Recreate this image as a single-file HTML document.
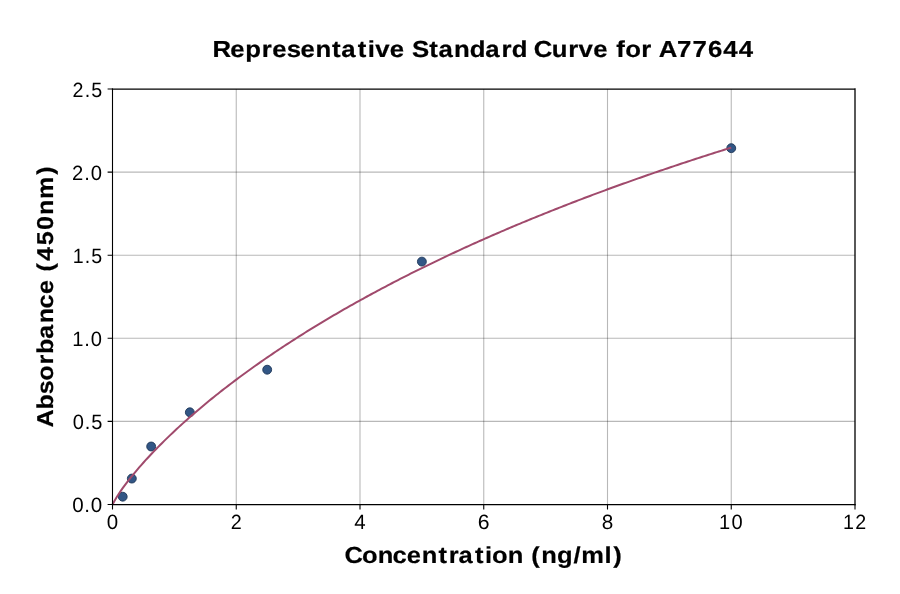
<!DOCTYPE html><html><head><meta charset="utf-8"><style>html,body{margin:0;padding:0;background:#fff;width:900px;height:594px;overflow:hidden}svg{display:block;will-change:transform}text{font-family:"Liberation Sans",sans-serif;fill:#000;text-rendering:geometricPrecision}</style></head><body>
<svg width="900" height="594" viewBox="0 0 900 594">
<rect width="900" height="594" fill="#fff"/>
<g stroke="#000" stroke-opacity="0.28" stroke-width="1.1" fill="none">
<path d="M236.25 89.0V504.5"/>
<path d="M360.00 89.0V504.5"/>
<path d="M483.75 89.0V504.5"/>
<path d="M607.50 89.0V504.5"/>
<path d="M731.25 89.0V504.5"/>
<path d="M112.5 421.40H855.0"/>
<path d="M112.5 338.30H855.0"/>
<path d="M112.5 255.20H855.0"/>
<path d="M112.5 172.10H855.0"/>
</g>
<circle cx="122.71" cy="496.69" r="4.45" fill="#325685" stroke="#1d3657" stroke-width="0.9"/>
<circle cx="131.84" cy="478.57" r="4.45" fill="#325685" stroke="#1d3657" stroke-width="0.9"/>
<circle cx="151.17" cy="446.50" r="4.45" fill="#325685" stroke="#1d3657" stroke-width="0.9"/>
<circle cx="189.84" cy="412.29" r="4.45" fill="#325685" stroke="#1d3657" stroke-width="0.9"/>
<circle cx="267.19" cy="369.71" r="4.45" fill="#325685" stroke="#1d3657" stroke-width="0.9"/>
<circle cx="421.88" cy="261.60" r="4.45" fill="#325685" stroke="#1d3657" stroke-width="0.9"/>
<circle cx="731.25" cy="148.17" r="4.45" fill="#325685" stroke="#1d3657" stroke-width="0.9"/>
<polyline points="112.50,504.50 114.57,500.81 116.64,497.23 118.71,493.96 120.78,490.88 122.85,487.94 124.92,485.10 126.99,482.36 129.06,479.68 131.12,477.08 133.19,474.53 135.26,472.03 137.33,469.59 139.40,467.18 141.47,464.82 143.54,462.49 145.61,460.20 147.68,457.95 149.75,455.72 151.82,453.52 153.89,451.36 155.96,449.21 158.03,447.10 160.10,445.01 162.17,442.94 164.23,440.89 166.30,438.87 168.37,436.86 170.44,434.88 172.51,432.92 174.58,430.97 176.65,429.04 178.72,427.13 180.79,425.24 182.86,423.37 184.93,421.51 187.00,419.66 189.07,417.84 191.14,416.02 193.21,414.22 195.28,412.44 197.35,410.67 199.41,408.91 201.48,407.17 203.55,405.44 205.62,403.72 207.69,402.02 209.76,400.33 211.83,398.64 213.90,396.98 215.97,395.32 218.04,393.67 220.11,392.04 222.18,390.41 224.25,388.80 226.32,387.20 228.39,385.61 230.46,384.02 232.53,382.45 234.59,380.89 236.66,379.34 238.73,377.80 240.80,376.26 242.87,374.74 244.94,373.22 247.01,371.72 249.08,370.22 251.15,368.73 253.22,367.25 255.29,365.78 257.36,364.32 259.43,362.86 261.50,361.42 263.57,359.98 265.64,358.55 267.70,357.13 269.77,355.71 271.84,354.30 273.91,352.90 275.98,351.51 278.05,350.13 280.12,348.75 282.19,347.38 284.26,346.02 286.33,344.66 288.40,343.31 290.47,341.97 292.54,340.63 294.61,339.30 296.68,337.98 298.75,336.66 300.82,335.35 302.88,334.05 304.95,332.75 307.02,331.46 309.09,330.18 311.16,328.90 313.23,327.63 315.30,326.36 317.37,325.10 319.44,323.85 321.51,322.60 323.58,321.36 325.65,320.12 327.72,318.89 329.79,317.66 331.86,316.44 333.93,315.23 335.99,314.02 338.06,312.82 340.13,311.62 342.20,310.42 344.27,309.24 346.34,308.05 348.41,306.88 350.48,305.70 352.55,304.54 354.62,303.37 356.69,302.22 358.76,301.06 360.83,299.92 362.90,298.77 364.97,297.64 367.04,296.50 369.11,295.37 371.17,294.25 373.24,293.13 375.31,292.02 377.38,290.90 379.45,289.80 381.52,288.70 383.59,287.60 385.66,286.51 387.73,285.42 389.80,284.34 391.87,283.26 393.94,282.18 396.01,281.11 398.08,280.05 400.15,278.98 402.22,277.92 404.29,276.87 406.35,275.82 408.42,274.77 410.49,273.73 412.56,272.69 414.63,271.66 416.70,270.63 418.77,269.60 420.84,268.58 422.91,267.56 424.98,266.55 427.05,265.54 429.12,264.53 431.19,263.53 433.26,262.53 435.33,261.53 437.40,260.54 439.46,259.55 441.53,258.56 443.60,257.58 445.67,256.60 447.74,255.63 449.81,254.66 451.88,253.69 453.95,252.73 456.02,251.76 458.09,250.81 460.16,249.85 462.23,248.90 464.30,247.95 466.37,247.01 468.44,246.07 470.51,245.13 472.58,244.20 474.64,243.27 476.71,242.34 478.78,241.41 480.85,240.49 482.92,239.57 484.99,238.66 487.06,237.75 489.13,236.84 491.20,235.93 493.27,235.03 495.34,234.13 497.41,233.23 499.48,232.34 501.55,231.45 503.62,230.56 505.69,229.68 507.76,228.79 509.82,227.91 511.89,227.04 513.96,226.16 516.03,225.29 518.10,224.43 520.17,223.56 522.24,222.70 524.31,221.84 526.38,220.98 528.45,220.13 530.52,219.28 532.59,218.43 534.66,217.58 536.73,216.74 538.80,215.90 540.87,215.06 542.93,214.23 545.00,213.39 547.07,212.56 549.14,211.74 551.21,210.91 553.28,210.09 555.35,209.27 557.42,208.45 559.49,207.64 561.56,206.82 563.63,206.02 565.70,205.21 567.77,204.40 569.84,203.60 571.91,202.80 573.98,202.00 576.05,201.21 578.11,200.42 580.18,199.63 582.25,198.84 584.32,198.05 586.39,197.27 588.46,196.49 590.53,195.71 592.60,194.93 594.67,194.16 596.74,193.39 598.81,192.62 600.88,191.85 602.95,191.09 605.02,190.32 607.09,189.56 609.16,188.80 611.22,188.05 613.29,187.29 615.36,186.54 617.43,185.79 619.50,185.05 621.57,184.30 623.64,183.56 625.71,182.82 627.78,182.08 629.85,181.34 631.92,180.61 633.99,179.87 636.06,179.14 638.13,178.41 640.20,177.69 642.27,176.96 644.34,176.24 646.40,175.52 648.47,174.80 650.54,174.09 652.61,173.37 654.68,172.66 656.75,171.95 658.82,171.24 660.89,170.53 662.96,169.83 665.03,169.13 667.10,168.43 669.17,167.73 671.24,167.03 673.31,166.33 675.38,165.64 677.45,164.95 679.52,164.26 681.58,163.57 683.65,162.89 685.72,162.20 687.79,161.52 689.86,160.84 691.93,160.16 694.00,159.49 696.07,158.81 698.14,158.14 700.21,157.47 702.28,156.80 704.35,156.13 706.42,155.46 708.49,154.80 710.56,154.14 712.63,153.48 714.69,152.82 716.76,152.16 718.83,151.50 720.90,150.85 722.97,150.20 725.04,149.55 727.11,148.90 729.18,148.25 731.25,147.61" fill="none" stroke="#a04a6c" stroke-width="2.0" stroke-linejoin="round"/>
<path d="M112.5 504.5V89.0" stroke="#000" stroke-width="1.1" fill="none" stroke-linecap="square"/>
<path d="M112.5 504.65H855.0" stroke="#000" stroke-width="1.2" fill="none" stroke-linecap="square"/>
<path d="M855.0 504.5V89.0M112.5 89.15H855.0" stroke="#000" stroke-width="1.3" fill="none" stroke-linecap="square"/>
<path d="M112.50 504.5v4.9M236.25 504.5v4.9M360.00 504.5v4.9M483.75 504.5v4.9M607.50 504.5v4.9M731.25 504.5v4.9M855.00 504.5v4.9M112.5 504.50h-4.9M112.5 421.40h-4.9M112.5 338.30h-4.9M112.5 255.20h-4.9M112.5 172.10h-4.9M112.5 89.00h-4.9" stroke="#000" stroke-width="1.1" fill="none"/>
<text transform="translate(0,528.8) scale(0.9945,1)" font-size="20.61" x="107.39">0</text>
<text transform="translate(0,528.8) scale(0.9586,1)" font-size="20.61" x="240.72">2</text>
<text transform="translate(0,528.8) scale(0.9946,1)" font-size="20.61" x="356.28">4</text>
<text transform="translate(0,528.8) scale(1.0293,1)" font-size="20.61" x="464.19">6</text>
<text transform="translate(0,528.8) scale(1.0053,1)" font-size="20.61" x="598.58">8</text>
<text transform="translate(0,528.8) scale(0.9733,1)" font-size="20.61" x="738.67 751.48">10</text>
<text transform="translate(0,528.8) scale(0.9543,1)" font-size="20.61" x="883.50 896.29">12</text>
<text transform="translate(0,512.00) scale(0.9969,1)" font-size="20.61" x="72.36 84.53 90.97">0.0</text>
<text transform="translate(0,428.90) scale(0.9716,1)" font-size="20.61" x="74.82 87.23 93.83">0.5</text>
<text transform="translate(0,345.80) scale(0.9778,1)" font-size="20.61" x="73.78 86.23 92.86">1.0</text>
<text transform="translate(0,262.70) scale(0.9513,1)" font-size="20.61" x="76.44 89.15 95.96">1.5</text>
<text transform="translate(0,179.60) scale(0.9810,1)" font-size="20.61" x="73.36 85.94 92.53">2.0</text>
<text transform="translate(0,96.50) scale(0.9551,1)" font-size="20.61" x="75.94 88.78 95.55">2.5</text>
<text transform="translate(0,56.7) scale(1.1140,1)" font-size="23.11" font-weight="bold" stroke="#000" stroke-width="0.22" x="190.69 206.76 220.25 234.99 244.41 257.33 269.82 283.17 298.14 306.39 321.14 330.07 336.78 349.92 363.49 369.75 385.36 393.61 407.59 421.72 435.55 450.12 459.29 473.86 479.22 495.21 510.03 519.31 532.45 546.02 553.25 561.17 575.73 585.18 591.26 607.70 621.58 635.66 649.34 663.22">Representative Standard Curve for A77644</text>
<text transform="translate(0,563.4) scale(1.1047,1)" font-size="23.11" font-weight="bold" stroke="#000" stroke-width="0.18" x="311.93 327.81 341.89 355.28 368.30 381.78 396.84 406.29 415.11 429.95 438.96 445.45 459.54 474.03 480.99 490.05 504.31 519.12 526.21 547.21 555.11">Concentration (ng/ml)</text>
<text transform="translate(53.0,426.9) rotate(-90) scale(1.0931,1)" font-size="22.97" font-weight="bold" stroke="#000" stroke-width="0.2" x="-0.51 16.01 29.96 42.26 57.04 66.66 80.54 94.79 108.31 121.48 135.22 142.27 151.80 166.11 180.23 193.91 208.52 230.65">Absorbance (450nm)</text>
</svg></body></html>
